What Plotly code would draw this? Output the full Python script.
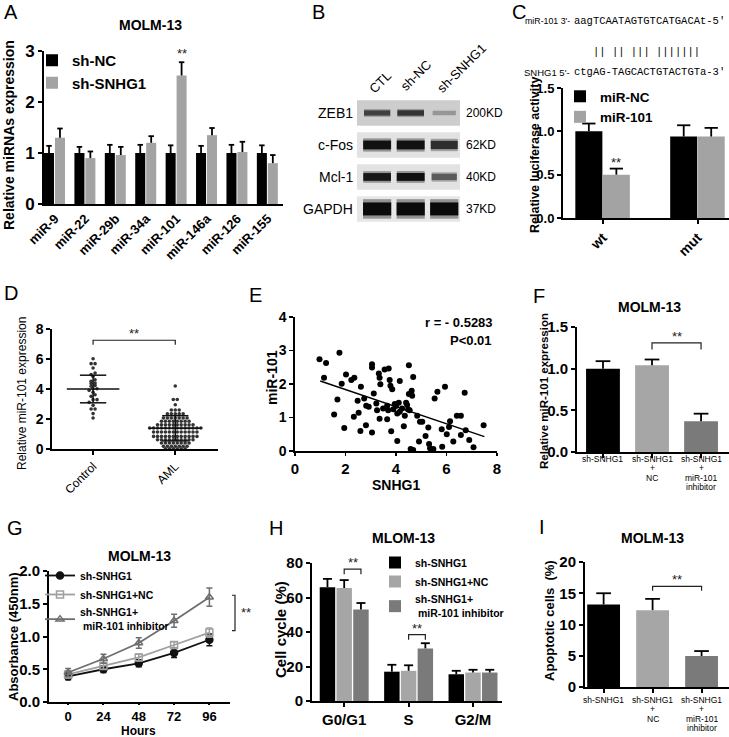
import plotly.graph_objects as go

W, H = 729, 737
SANS = "Arial, Liberation Sans, sans-serif"
MONO = "Liberation Mono, Courier New, monospace"

# ======================= DATA =======================
# A
a_categories = ["miR-9", "miR-22", "miR-29b", "miR-34a", "miR-101", "miR-146a", "miR-126", "miR-155"]
a_sh_nc = [1.0, 1.0, 1.0, 1.0, 1.0, 1.0, 1.0, 1.0]
a_sh_nc_err = [0.14, 0.12, 0.16, 0.16, 0.15, 0.14, 0.16, 0.15]
a_sh_snhg1 = [1.30, 0.90, 0.96, 1.20, 2.52, 1.35, 1.02, 0.80]
a_sh_snhg1_err = [0.18, 0.13, 0.16, 0.13, 0.26, 0.14, 0.20, 0.16]

# B (western blot, relative band intensity 0..1)
b_lanes = ["CTL", "sh-NC", "sh-SNHG1"]
b_proteins = ["ZEB1", "c-Fos", "Mcl-1", "GAPDH"]
b_weights = ["200KD", "62KD", "40KD", "37KD"]
b_band_intensity = [[0.72, 0.78, 0.28],
                    [0.96, 0.96, 0.82],
                    [0.93, 0.96, 0.58],
                    [1.00, 1.00, 1.00]]

# C
c_mir_prefix, c_mir_seq = "miR-101 3'-", "aagTCAATAGTGTCATGACAt-5'"
c_pairs = "|| || ||| |||||||"
c_snhg1_prefix, c_snhg1_seq = "SNHG1 5'-", "ctgAG-TAGCACTGTACTGTa-3'"
c_categories = ["wt", "mut"]
c_mir_nc = [1.00, 0.94]
c_mir_nc_err = [0.09, 0.13]
c_mir_101 = [0.50, 0.94]
c_mir_101_err = [0.07, 0.10]

# D
d_groups = ["Control", "AML"]
d_control = [6.02, 5.69, 5.69, 5.40, 5.07, 4.96, 4.84, 4.62, 4.51, 4.40, 4.36, 4.24, 4.18,
             4.02, 4.02, 3.91, 3.78, 3.62, 3.51, 3.29, 3.29, 3.11, 2.91, 2.67, 2.67, 2.36, 2.07]
d_aml = [4.20,
         3.30, 3.30,
         2.95,
         2.60, 2.60, 2.60,
         2.35, 2.35, 2.35, 2.35, 2.35,
         2.07, 2.07, 2.07, 2.07, 2.07, 2.07, 2.07,
         1.85, 1.85, 1.85, 1.85, 1.85, 1.85, 1.85, 1.85,
         1.62, 1.62, 1.62, 1.62, 1.62, 1.62, 1.62, 1.62, 1.62, 1.62,
         1.40, 1.40, 1.40, 1.40, 1.40, 1.40, 1.40, 1.40, 1.40, 1.40, 1.40, 1.40, 1.40, 1.40,
         1.13, 1.13, 1.13, 1.13, 1.13, 1.13, 1.13, 1.13, 1.13, 1.13, 1.13, 1.13,
         0.84, 0.84, 0.84, 0.84, 0.84, 0.84, 0.84, 0.84, 0.84, 0.84, 0.84, 0.84,
         0.62, 0.62, 0.62, 0.62, 0.62, 0.62, 0.62, 0.62, 0.62, 0.62,
         0.40, 0.40, 0.40, 0.40, 0.40, 0.40, 0.40, 0.40,
         0.18, 0.18, 0.18, 0.18, 0.18, 0.18, 0.18,
         0.02, 0.02, 0.02, 0.02, 0.02, 0.02]
d_mean = [4.00, 1.38]
d_sd = [0.92, 0.84]

# E
e_snhg1 = [0.97, 1.23, 1.15, 1.76, 1.68, 1.55, 1.85, 2.02, 1.95, 2.23, 2.35, 2.33, 2.48, 2.52,
           2.61, 2.59, 2.74, 2.81, 2.82, 2.92, 3.05, 3.05, 3.05, 3.12, 3.22, 3.25, 3.32, 3.35,
           3.38, 3.35, 3.49, 3.55, 3.71, 3.65, 3.69, 3.65, 3.75, 3.78, 3.85, 3.81, 3.89, 3.95,
           4.00, 4.05, 4.05, 4.11, 4.15, 4.15, 4.24, 4.31, 4.35, 4.40, 4.44, 4.48, 4.51, 4.51,
           4.54, 4.58, 4.62, 4.64, 4.68, 4.68, 4.84, 4.91, 4.95, 5.04, 5.17, 5.28, 5.31, 5.35,
           5.48, 5.53, 5.64, 5.81, 5.83, 5.94, 6.01, 6.10, 6.14, 6.27, 6.41, 6.57, 6.57, 6.72,
           6.76, 6.90, 7.07, 7.47]
e_mir101 = [2.74, 2.63, 2.19, 2.93, 1.54, 1.09, 2.01, 2.28, 0.69, 2.12, 2.19, 1.02, 1.50, 1.14,
            1.92, 0.60, 1.57, 0.77, 1.35, 1.32, 2.59, 2.49, 0.55, 1.72, 1.42, 1.22, 2.31, 2.19,
            1.99, 0.96, 1.27, 2.43, 2.46, 1.35, 1.22, 0.95, 2.12, 1.95, 1.84, 0.59, 1.25, 1.40,
            1.34, 1.12, 0.30, 1.44, 2.09, 1.17, 1.27, 0.74, 1.05, 1.44, 1.37, 1.24, 2.56, 1.70,
            1.22, 0.06, 1.80, 1.65, 2.21, 0.03, 1.05, 0.28, 0.87, 0.87, 0.45, 0.70, 0.21, 0.08,
            0.06, 1.57, 1.77, 0.65, 0.13, 1.92, 0.50, 0.72, 0.89, 0.28, 1.05, 1.05, 0.48, 1.74,
            0.62, 0.33, 0.11, 0.77]
e_fit_x = [1.0, 7.5]
e_fit_y = [2.09, 0.43]
e_r_text = "r = - 0.5283"
e_p_text = "P<0.01"

# F
f_labels = [["sh-SNHG1"], ["sh-SNHG1", "+", "NC"], ["sh-SNHG1", "+", "miR-101", "inhibitor"]]
f_values = [1.00, 1.04, 0.37]
f_err = [0.09, 0.07, 0.09]

# G
g_hours = [0, 24, 48, 72, 96]
g_sh = [0.39, 0.50, 0.59, 0.75, 0.95]
g_sh_err = [0.05, 0.05, 0.05, 0.07, 0.09]
g_nc = [0.42, 0.55, 0.68, 0.87, 1.06]
g_nc_err = [0.05, 0.05, 0.05, 0.05, 0.07]
g_inh = [0.45, 0.66, 0.90, 1.24, 1.60]
g_inh_err = [0.06, 0.07, 0.08, 0.10, 0.14]

# H
h_phases = ["G0/G1", "S", "G2/M"]
h_sh = [66.0, 17.0, 15.5]
h_sh_err = [4.8, 4.0, 2.0]
h_nc = [65.5, 17.5, 16.5]
h_nc_err = [4.6, 3.2, 1.6]
h_inh = [53.0, 30.5, 16.5]
h_inh_err = [3.8, 3.0, 1.6]

# I
i_labels = [["sh-SNHG1"], ["sh-SNHG1", "+", "NC"], ["sh-SNHG1", "+", "miR-101", "inhibitor"]]
i_values = [13.2, 12.3, 4.95]
i_err = [1.8, 1.8, 0.8]

# ======================= STYLE / HELPERS =======================
BLACK, LIGHT, DARK = "#000000", "#a6a6a6", "#7a7a7a"
layout = {}
traces = []
anns = []
shapes = []


def bold(size, color="black"):
    return dict(family=SANS, size=size, color=color, weight="bold")


def reg(size, color="black"):
    return dict(family=SANS, size=size, color=color)


def make_axes(n, xpix, ypix, xrange, yrange, lw=2.0, xkw=None, ykw=None):
    s = "" if n == 1 else str(n)
    base = dict(showline=True, linecolor="black", linewidth=lw, ticks="outside", ticklen=4,
                tickwidth=lw, tickcolor="black", showgrid=False, zeroline=False, fixedrange=True,
                automargin=False)
    xa = dict(base, domain=[xpix[0] / W, xpix[1] / W], range=xrange, anchor="y" + s)
    ya = dict(base, domain=[1 - ypix[1] / H, 1 - ypix[0] / H], range=yrange, anchor="x" + s)
    xa.update(xkw or {})
    ya.update(ykw or {})
    layout["xaxis" + s] = xa
    layout["yaxis" + s] = ya
    return "x" + s, "y" + s


def text(x, y, s, font, xanchor="center", yanchor="middle", angle=0, xref="paper", yref="paper", yshift=0):
    anns.append(dict(x=x / W if xref == "paper" else x, y=1 - y / H if yref == "paper" else y,
                     xref=xref, yref=yref, text=s, font=font, showarrow=False, xanchor=xanchor,
                     yanchor=yanchor, textangle=angle, yshift=yshift))


def bar(xs, vals, color, offset, width, xa, ya, name=None, legend=None):
    kw = dict(name=name, showlegend=True, legend=legend) if name else dict(showlegend=False)
    traces.append(go.Bar(x=xs, y=vals, offset=offset, width=width, xaxis=xa, yaxis=ya,
                         marker=dict(color=color, line=dict(width=0)), hoverinfo="skip", **kw))


def err(xs, tops, errs, cap, xa, ya, width=1.8, color="black"):
    X, Y = [], []
    for x, t, e in zip(xs, tops, errs):
        X += [x, x, None, x - cap, x + cap, None]
        Y += [t, t + e, None, t + e, t + e, None]
    traces.append(go.Scatter(x=X, y=Y, mode="lines", line=dict(color=color, width=width),
                             xaxis=xa, yaxis=ya, showlegend=False, hoverinfo="skip", cliponaxis=False))


def bracket(x1, x2, h, drop, xa, ya, size=13):
    traces.append(go.Scatter(x=[x1, x1, x2, x2], y=[h - drop, h, h, h - drop], mode="lines",
                             line=dict(color="#222", width=1.2), xaxis=xa, yaxis=ya,
                             showlegend=False, hoverinfo="skip", cliponaxis=False))
    anns.append(dict(x=(x1 + x2) / 2, y=h, xref=xa, yref=ya, text="**", showarrow=False,
                     font=reg(size, "#222"), xanchor="center", yanchor="bottom", yshift=-3))


def swarm(vals, binw, step, center):
    groups = {}
    for v in vals:
        groups.setdefault(round(v / binw), []).append(v)
    xs, ys = [], []
    for k in groups:
        g = sorted(groups[k])
        n = len(g)
        for i, v in enumerate(g):
            xs.append(center + (i - (n - 1) / 2) * step)
            ys.append(v)
    return xs, ys


def legend_cfg(x, y, font):
    return dict(x=x / W, y=1 - y / H, xanchor="left", yanchor="top", bgcolor="rgba(0,0,0,0)",
                borderwidth=0, font=font, tracegroupgap=0, traceorder="normal")


# panel letters
for letter, lx, ly in [("A", 11, 12), ("B", 318, 12), ("C", 519, 12), ("D", 11, 293), ("E", 256, 295),
                       ("F", 539, 296), ("G", 15, 528), ("H", 276, 528), ("I", 542, 527)]:
    text(lx, ly, letter, reg(20))

# ======================= PANEL A =======================
xa, ya = make_axes(1, (44, 283), (51, 204), [-0.36, 7.5], [0, 3],
                   xkw=dict(tickvals=list(range(len(a_categories))), ticktext=a_categories,
                            tickangle=-45, tickfont=bold(13), ticklen=0),
                   ykw=dict(tickvals=[0, 1, 2, 3], tickfont=bold(17)))
idx = list(range(len(a_categories)))
bar(idx, a_sh_nc, BLACK, -0.36, 0.33, xa, ya, "sh-NC", "legend")
bar(idx, a_sh_snhg1, "#a3a3a3", 0.0, 0.33, xa, ya, "sh-SNHG1", "legend")
err([i - 0.195 for i in idx], a_sh_nc, a_sh_nc_err, 0.09, xa, ya)
err([i + 0.165 for i in idx], a_sh_snhg1, a_sh_snhg1_err, 0.09, xa, ya)
anns.append(dict(x=4.165, y=a_sh_snhg1[4] + a_sh_snhg1_err[4], xref=xa, yref=ya, text="**",
                 showarrow=False, font=reg(13, "#222"), yanchor="bottom", yshift=-1))
text(150, 25, "MOLM-13", bold(14))
text(9, 135, "Relative miRNAs expression", bold(14), angle=-90)
layout["legend"] = legend_cfg(32, 44, bold(15))

# ======================= PANEL B =======================
xb, yb = make_axes(2, (357, 460), (100, 223), [0.4, 3.47], [4.44, 0.594],
                   xkw=dict(visible=False), ykw=dict(visible=False))
b_row_bg = ["#cdcdcd", "#e2e2e2", "#e2e2e2", "#e6e6e6"]
b_band_px = [6, 9, 8, 13]
for r, prot in enumerate(b_proteins):
    shapes.append(dict(type="rect", xref="x2 domain", yref="y2", x0=0, x1=1, y0=r + 1 - 0.40,
                       y1=r + 1 + 0.40, fillcolor=b_row_bg[r], line=dict(width=0), layer="below"))
    for j, inten in enumerate(b_band_intensity[r]):
        hw = 0.42 * (0.75 + 0.25 * inten)
        lv = int(205 - 195 * inten)
        halo = int(220 - 130 * inten)
        for wmul, col in [(1.5, f"rgb({halo},{halo},{halo})"), (1.0, f"rgb({lv},{lv},{lv})")]:
            traces.append(go.Scatter(x=[j + 1 - hw, j + 1 + hw], y=[r + 1, r + 1], mode="lines",
                                     line=dict(color=col, width=b_band_px[r] * (0.55 + 0.45 * inten) * wmul),
                                     opacity=0.6 if wmul > 1 else 1.0,
                                     xaxis=xb, yaxis=yb, showlegend=False, hoverinfo="skip"))
    anns.append(dict(x=-0.02, y=r + 1, xref="x2 domain", yref="y2", text=prot, font=reg(14),
                     showarrow=False, xanchor="right", yanchor="middle"))
    anns.append(dict(x=1.04, y=r + 1, xref="x2 domain", yref="y2", text=b_weights[r], font=reg(12),
                     showarrow=False, xanchor="left", yanchor="middle"))
for j, (lab, cx, cy) in enumerate(zip(b_lanes, [381, 416, 461], [82, 76, 68])):
    text(cx, cy, lab, reg(13), angle=-45)

# ======================= PANEL C =======================
text(572, 21, c_mir_prefix, reg(8.8), xanchor="right")
text(572, 21, c_mir_seq, dict(family=MONO, size=10.5, color="black"), xanchor="left")
text(591, 52, c_pairs, dict(family=MONO, size=10.5, color="black"), xanchor="left")
text(572, 72, c_snhg1_prefix, reg(9.5), xanchor="right")
text(572, 72, c_snhg1_seq, dict(family=MONO, size=10.5, color="black"), xanchor="left")

xc, yc = make_axes(3, (563, 729), (88, 218), [-0.42, 1.33], [0, 1.5],
                   xkw=dict(tickvals=[0, 1], ticktext=c_categories, tickangle=-45, tickfont=bold(14)),
                   ykw=dict(tickvals=[0, 0.5, 1.0, 1.5], tickformat=".1f", tickfont=bold(13)))
bar([0, 1], c_mir_nc, BLACK, -0.29, 0.285, xc, yc, "miR-NC", "legend2")
bar([0, 1], c_mir_101, "#a3a3a3", 0.0, 0.285, xc, yc, "miR-101", "legend2")
err([-0.1475, 0.8525], c_mir_nc, c_mir_nc_err, 0.07, xc, yc)
err([0.1425, 1.1425], c_mir_101, c_mir_101_err, 0.07, xc, yc)
anns.append(dict(x=0.1425, y=c_mir_101[0] + c_mir_101_err[0], xref=xc, yref=yc, text="**",
                 showarrow=False, font=reg(13, "#222"), yanchor="bottom", yshift=-3))
text(535, 155, "Relative luciferase activity", bold(12.5), angle=-90)
layout["legend2"] = legend_cfg(560, 81, bold(13.5))

# ======================= PANEL D =======================
xd, yd = make_axes(4, (52, 218), (329, 449), [-0.5, 1.52], [0, 8], lw=1.6,
                   xkw=dict(tickvals=[0, 1], ticktext=d_groups, tickangle=-45, tickfont=reg(12)),
                   ykw=dict(tickvals=[0, 2, 4, 6, 8], tickfont=bold(14)))
for gi, vals in enumerate([d_control, d_aml]):
    sx, sy = swarm(vals, 0.2, 0.048, gi)
    traces.append(go.Scatter(x=sx, y=sy, mode="markers", marker=dict(color="#333", size=3.6),
                             xaxis=xd, yaxis=yd, showlegend=False, hoverinfo="skip", cliponaxis=False))
    m, s = d_mean[gi], d_sd[gi]
    X = [gi - 0.32, gi + 0.32, None, gi, gi, None, gi - 0.16, gi + 0.16, None, gi - 0.16, gi + 0.16]
    Y = [m, m, None, m - s, m + s, None, m - s, m - s, None, m + s, m + s]
    traces.append(go.Scatter(x=X, y=Y, mode="lines", line=dict(color="#111", width=1.5),
                             xaxis=xd, yaxis=yd, showlegend=False, hoverinfo="skip"))
bracket(0, 1, 7.25, 0.3, xd, yd, 13)
text(22, 394, "Relative miR-101 expression", reg(12), angle=-90)

# ======================= PANEL E =======================
xe, ye = make_axes(5, (295, 497), (317, 451), [0, 8], [0, 4], lw=1.6,
                   xkw=dict(tickvals=[0, 2, 4, 6, 8], tickfont=bold(15), ticklen=3),
                   ykw=dict(tickvals=[0, 1, 2, 3, 4], tickfont=bold(14)))
traces.append(go.Scatter(x=e_snhg1, y=e_mir101, mode="markers", marker=dict(color="black", size=6),
                         xaxis=xe, yaxis=ye, showlegend=False, hoverinfo="skip", cliponaxis=False))
traces.append(go.Scatter(x=e_fit_x, y=e_fit_y, mode="lines", line=dict(color="black", width=1.4),
                         xaxis=xe, yaxis=ye, showlegend=False, hoverinfo="skip"))
text(495, 322, e_r_text, bold(13), xanchor="right")
text(494, 340, e_p_text, bold(13), xanchor="right")
text(396, 485, "SNHG1", bold(14))
text(272, 378, "miR-101", bold(14), angle=-90)

# ======================= PANEL F =======================
xf, yf = make_axes(6, (577, 729), (327, 452), [-0.53, 2.57], [0, 1.5],
                   xkw=dict(tickvals=[0, 1, 2], ticktext=["", "", ""]),
                   ykw=dict(tickvals=[0, 0.5, 1.0, 1.5], tickformat=".1f", tickfont=bold(15)))
bar([0, 1, 2], f_values, [BLACK, LIGHT, DARK], -0.345, 0.69, xf, yf)
err([0, 1, 2], f_values, f_err, 0.15, xf, yf)
bracket(1, 2, 1.31, 0.08, xf, yf, 13)
for i, lines in enumerate(f_labels):
    for k, ln in enumerate(lines):
        text(i, 459 + 9.3 * k, ln, reg(8.5), xref=xf)
text(649, 307, "MOLM-13", bold(14))
text(544, 391, "Relative miR-101 expression", bold(11.5), angle=-90)

# ======================= PANEL G =======================
xg, yg = make_axes(7, (49, 230), (571, 702), [-13, 110], [0, 2],
                   xkw=dict(tickvals=g_hours, tickfont=bold(13), ticklen=1),
                   ykw=dict(tickvals=[0, 0.5, 1.0, 1.5, 2.0], tickformat=".1f", tickfont=bold(15)))
for vals, errs, col, sym, name in [(g_sh, g_sh_err, "#111111", "circle", "sh-SNHG1"),
                                   (g_nc, g_nc_err, "#a0a0a0", "square-open", "sh-SNHG1+NC"),
                                   (g_inh, g_inh_err, "#6e6e6e", "triangle-up-open",
                                    "sh-SNHG1+<br> miR-101 inhibitor")]:
    traces.append(go.Scatter(x=g_hours, y=vals, mode="lines+markers", name=name, legend="legend3",
                             line=dict(color=col, width=1.8),
                             marker=dict(symbol=sym, size=7, color=col, line=dict(color=col, width=1.5)),
                             error_y=dict(type="data", array=errs, color=col, thickness=1.5, width=3),
                             xaxis=xg, yaxis=yg, hoverinfo="skip", cliponaxis=False))
shapes.append(dict(type="path", xref="paper", yref="y7",
                   path=f"M {232 / W},{g_inh[-1] + 0.03} L {235 / W},{g_inh[-1] + 0.03} "
                        f"L {235 / W},{g_nc[-1] + 0.03} L {232 / W},{g_nc[-1] + 0.03}",
                   line=dict(color="#222", width=1.2)))
anns.append(dict(x=239 / W, y=(g_inh[-1] + g_nc[-1]) / 2 + 0.03, xref="paper", yref="y7", text="**",
                 showarrow=False, xanchor="left", font=reg(13, "#222")))
text(139, 556, "MOLM-13", bold(14))
text(138, 731, "Hours", bold(12))
text(13, 637, "Absorbance (450nm)", bold(13), angle=-90)
layout["legend3"] = legend_cfg(40, 561, bold(10.5))

# ======================= PANEL H =======================
xh, yh = make_axes(8, (312, 502), (563, 701), [-0.5, 2.45], [0, 80],
                   xkw=dict(tickvals=[0, 1, 2], ticktext=h_phases, tickfont=bold(15)),
                   ykw=dict(tickvals=[0, 20, 40, 60, 80], tickfont=bold(15)))
hidx = [0, 1, 2]
for vals, errs, col, off, name in [(h_sh, h_sh_err, BLACK, -0.38, "sh-SNHG1"),
                                   (h_nc, h_nc_err, LIGHT, -0.12, "sh-SNHG1+NC"),
                                   (h_inh, h_inh_err, DARK, 0.14, "sh-SNHG1+<br> miR-101 inhibitor")]:
    bar(hidx, vals, col, off, 0.24, xh, yh, name, "legend4")
    err([i + off + 0.12 for i in hidx], vals, errs, 0.07, xh, yh)
bracket(0.0, 0.26, 76.5, 3.0, xh, yh, 13)
bracket(1.0, 1.26, 38.5, 3.0, xh, yh, 13)
text(404, 538, "MLOM-13", bold(14))
text(280, 630, "Cell cycle (%)", bold(15), angle=-90)
layout["legend4"] = legend_cfg(375, 548, bold(10.5))

# ======================= PANEL I =======================
xi, yi = make_axes(9, (585, 729), (562, 687), [-0.38, 2.56], [0, 20],
                   xkw=dict(tickvals=[0, 1, 2], ticktext=["", "", ""]),
                   ykw=dict(tickvals=[0, 5, 10, 15, 20], tickfont=bold(15)))
bar([0, 1, 2], i_values, [BLACK, LIGHT, DARK], -0.335, 0.67, xi, yi)
err([0, 1, 2], i_values, i_err, 0.15, xi, yi)
bracket(1, 2, 16.1, 0.7, xi, yi, 13)
for i, lines in enumerate(i_labels):
    for k, ln in enumerate(lines):
        text(i, 700 + 9.3 * k, ln, reg(8.5), xref=xi)
text(652, 538, "MOLM-13", bold(14))
text(549, 621, "Apoptotic cells  (%)", bold(13), angle=-90)

# ======================= FIGURE =======================
fig = go.Figure(data=traces)
fig.update_layout(template="none", width=W, height=H, margin=dict(l=0, r=0, t=0, b=0, autoexpand=False),
                  paper_bgcolor="white", plot_bgcolor="rgba(0,0,0,0)", barmode="overlay",
                  annotations=anns, shapes=shapes, font=dict(family=SANS, color="black"), **layout)
fig.write_html("out.html", config={"displayModeBar": False, "staticPlot": True},
               post_script="document.body.style.margin='0px';document.body.style.padding='0px';")
